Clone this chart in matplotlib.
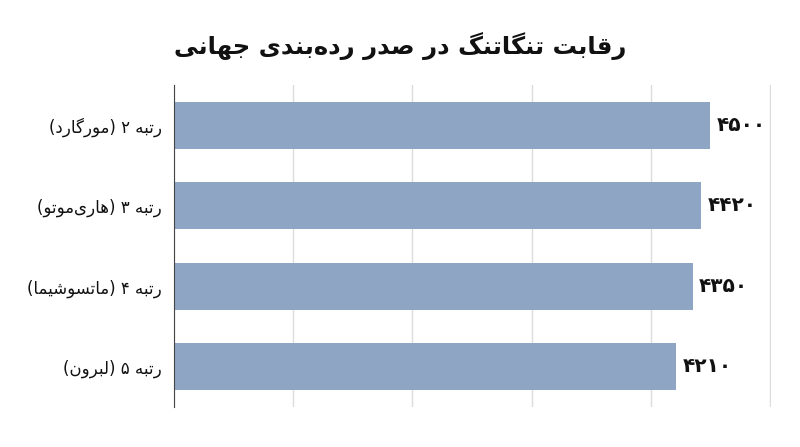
import matplotlib
matplotlib.use('Agg')
import matplotlib.pyplot as plt

title = 'رقابت تنگاتنگ در صدر رده‌بندی جهانی'
players = ['رتبه ۲ (مورگارد)', 'رتبه ۳ (هاری‌موتو)', 'رتبه ۴ (ماتسوشیما)', 'رتبه ۵ (لبرون)']
points = [4500, 4420, 4350, 4210]

# matplotlib has no arabic shaping, so pick presentation forms by hand
# char: (isolated, final, initial, medial)
FORMS = {
    'ا': ('\uFE8D', '\uFE8E', None, None),
    'ب': ('\uFE8F', '\uFE90', '\uFE91', '\uFE92'),
    'ت': ('\uFE95', '\uFE96', '\uFE97', '\uFE98'),
    'ج': ('\uFE9D', '\uFE9E', '\uFE9F', '\uFEA0'),
    'د': ('\uFEA9', '\uFEAA', None, None),
    'ر': ('\uFEAD', '\uFEAE', None, None),
    'س': ('\uFEB1', '\uFEB2', '\uFEB3', '\uFEB4'),
    'ش': ('\uFEB5', '\uFEB6', '\uFEB7', '\uFEB8'),
    'ص': ('\uFEB9', '\uFEBA', '\uFEBB', '\uFEBC'),
    'ق': ('\uFED5', '\uFED6', '\uFED7', '\uFED8'),
    'ل': ('\uFEDD', '\uFEDE', '\uFEDF', '\uFEE0'),
    'م': ('\uFEE1', '\uFEE2', '\uFEE3', '\uFEE4'),
    'ن': ('\uFEE5', '\uFEE6', '\uFEE7', '\uFEE8'),
    'ه': ('\uFEE9', '\uFEEA', '\uFEEB', '\uFEEC'),
    'و': ('\uFEED', '\uFEEE', None, None),
    'ی': ('\uFBFC', '\uFBFD', '\uFBFE', '\uFBFF'),
    'گ': ('\uFB92', '\uFB93', '\uFB94', '\uFB95'),
}
MIRROR = {'(': ')', ')': '('}
DIGITS = set('۰۱۲۳۴۵۶۷۸۹0123456789')


def dual(c):
    return c in FORMS and FORMS[c][2] is not None


def shape(s):
    out = []
    for i, c in enumerate(s):
        if c not in FORMS:
            if c != '\u200c':
                out.append(c)
            continue
        prev = s[i - 1] if i > 0 else ''
        nxt = s[i + 1] if i + 1 < len(s) else ''
        jp = dual(prev)
        jn = dual(c) and nxt in FORMS
        iso, fin, ini, med = FORMS[c]
        if jp and jn:
            out.append(med)
        elif jp:
            out.append(fin)
        elif jn:
            out.append(ini)
        else:
            out.append(iso)
    # visual order: reverse, keep digit runs left to right
    vis = [MIRROR.get(c, c) for c in reversed(out)]
    res, run = [], []
    for c in vis:
        if c in DIGITS:
            run.append(c)
        else:
            res.extend(reversed(run))
            run = []
            res.append(c)
    res.extend(reversed(run))
    return ''.join(res)


def fa_num(n):
    return str(n).translate(str.maketrans('0123456789', '۰۱۲۳۴۵۶۷۸۹'))


plt.rcParams['font.family'] = ['DejaVu Sans']

fig = plt.figure(figsize=(8, 4.47), dpi=100)
ax = fig.add_axes([0.2175, 0.0895, 0.7465, 0.7204])

ypos = list(range(len(players)))
ax.barh(ypos, points, height=0.58, color='#8ea5c4', zorder=2)
ax.set_ylim(len(players) - 0.5, -0.5)
ax.set_xlim(0, 5010)
ax.set_xticks(range(0, 5001, 1000))
ax.set_xticklabels([])
ax.grid(axis='x', color='#dcdcdc', linewidth=1, zorder=0)

ax.set_yticks(ypos)
ax.set_yticklabels([shape(p) for p in players], fontsize=12, color='#111111')
ax.tick_params(axis='both', length=0)
ax.tick_params(axis='y', pad=8.5)

for s in ['top', 'right', 'bottom']:
    ax.spines[s].set_visible(False)
ax.spines['left'].set_color('#444444')

for y, v in zip(ypos, points):
    ax.text(v + 55, y, fa_num(v), va='center', ha='left', fontsize=14.5,
            fontweight='bold', color='#111111')

fig.text(0.5, 0.896, shape(title), ha='center', va='center', fontsize=17.5,
         fontweight='bold', color='#111111')

fig.savefig('out.png', dpi=100)
